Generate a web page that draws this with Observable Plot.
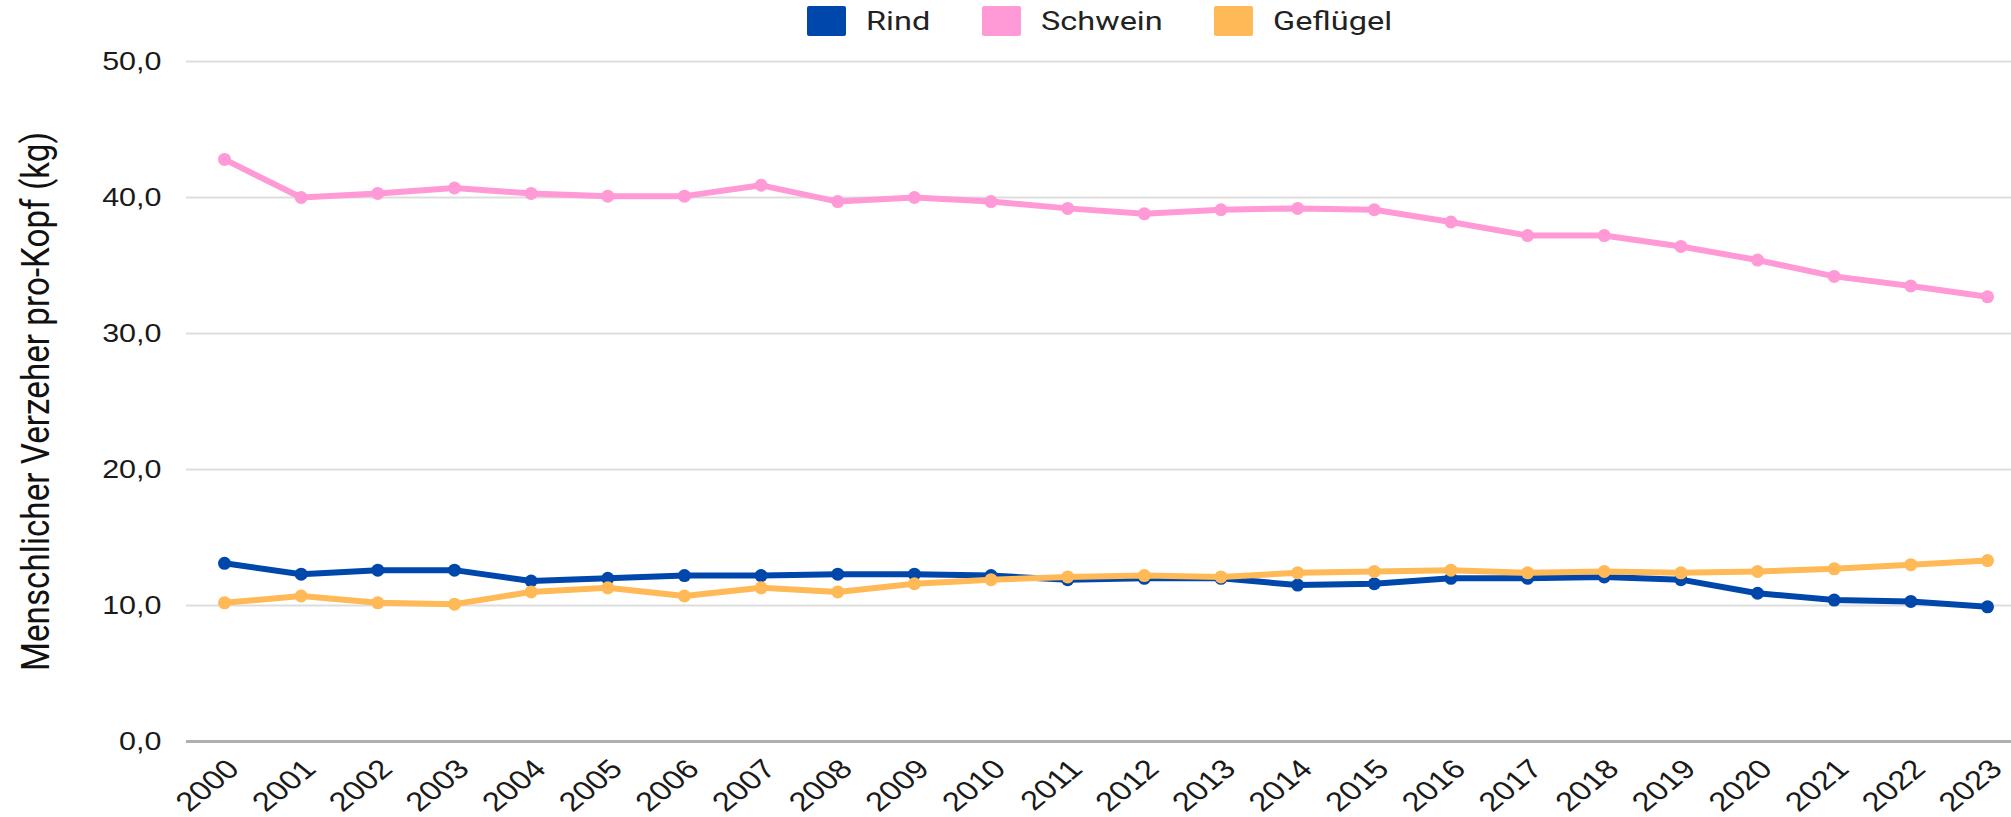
<!DOCTYPE html>
<html>
<head>
<meta charset="utf-8">
<script src="https://cdn.jsdelivr.net/npm/d3@7"></script>
<script src="https://cdn.jsdelivr.net/npm/@observablehq/plot@0.6"></script>
<style>
  html, body { margin: 0; padding: 0; background: #fff; }
  #legend { position: relative; height: 50px; width: 2011px; font-family: Roboto, sans-serif; font-size: 25px; color: #222; }
  .sw { position: absolute; top: 6px; width: 39px; height: 30px; border-radius: 2px; }
  .lt { position: absolute; top: 21px; transform: translateY(-50%) scaleX(1.3); transform-origin: 0 50%; white-space: nowrap; line-height: 1; }
</style>
</head>
<body>
<div id="legend"></div>
<div id="chart"></div>
<script>
const years = [2000,2001,2002,2003,2004,2005,2006,2007,2008,2009,2010,2011,2012,2013,2014,2015,2016,2017,2018,2019,2020,2021,2022,2023];
const rind      = [13.1,12.3,12.6,12.6,11.8,12.0,12.2,12.2,12.3,12.3,12.2,11.9,12.0,12.0,11.5,11.6,12.0,12.0,12.1,11.9,10.9,10.4,10.3,9.9];
const schwein   = [42.8,40.0,40.3,40.7,40.3,40.1,40.1,40.9,39.7,40.0,39.7,39.2,38.8,39.1,39.2,39.1,38.2,37.2,37.2,36.4,35.4,34.2,33.5,32.7];
const gefluegel = [10.2,10.7,10.2,10.1,11.0,11.3,10.7,11.3,11.0,11.6,11.9,12.1,12.2,12.1,12.4,12.5,12.6,12.4,12.5,12.4,12.5,12.7,13.0,13.3];
const seriesNames = ["Rind", "Schwein", "Geflügel"];
const seriesColors = ["#0047ab", "#ff9ad6", "#ffb957"];
const yTicks = [0, 10, 20, 30, 40, 50];
const yLabel = "Menschlicher Verzeher pro-Kopf (kg)";

const values = [rind, schwein, gefluegel];
const data = [];
seriesNames.forEach((s, i) => years.forEach((yr, j) => data.push({series: s, year: yr, value: values[i][j]})));
const drawOrder = ["Schwein", "Rind", "Geflügel"];

// legend
const legendLeft = [807, 982, 1214];
const legend = document.getElementById("legend");
seriesNames.forEach((s, i) => {
  const sw = document.createElement("div");
  sw.className = "sw";
  sw.style.left = legendLeft[i] + "px";
  sw.style.background = seriesColors[i];
  const tx = document.createElement("div");
  tx.className = "lt";
  tx.style.left = (legendLeft[i] + 59) + "px";
  tx.textContent = s;
  legend.appendChild(sw); legend.appendChild(tx);
});

const color = {domain: seriesNames, range: seriesColors};
const fmt = d => d.toFixed(1).replace(".", ",");

const marks = [
  Plot.ruleY(yTicks.filter(d => d > 0), {stroke: "#dddddd", strokeWidth: 2}),
  Plot.ruleY([0], {stroke: "#b0b0b0", strokeWidth: 3}),
];
drawOrder.forEach(s => {
  const d = data.filter(r => r.series === s);
  marks.push(Plot.line(d, {x: "year", y: "value", stroke: "series", strokeWidth: 6, strokeLinejoin: "round", strokeLinecap: "round"}));
  marks.push(Plot.dot(d, {x: "year", y: "value", fill: "series", r: 6.5}));
});
marks.push(
  Plot.axisY({ticks: yTicks, tickFormat: fmt, tickSize: 0, tickPadding: 25, fontSize: 25, label: null, fontFamily: "Liberation Sans, Arial, sans-serif", fill: "#1a1a1a"}),
  Plot.axisX({ticks: years, tickFormat: d => String(d), tickRotate: -45, tickSize: 0, tickPadding: 0, dx: 9, dy: 23, fontSize: 27, label: null, fontFamily: "Liberation Sans, Arial, sans-serif", fill: "#1a1a1a"}),
  Plot.text([yLabel], {frameAnchor: "left", dx: -149.5, rotate: -90, textAnchor: "middle", fontSize: 38, fontFamily: "Roboto, sans-serif", fill: "#111", text: d => d})
);

const chart = Plot.plot({
  width: 2011,
  height: 767,
  marginTop: 11,
  marginBottom: 76,
  marginLeft: 186,
  marginRight: 0,
  x: {type: "linear", domain: [1999.504, 2023.313]},
  y: {domain: [0, 50]},
  color,
  style: {background: "#fff", overflow: "visible"},
  marks
});

// horizontal stretch of tick labels (as in the reference)
chart.querySelectorAll('g[aria-label="y-axis tick label"] text, g[aria-label="x-axis tick label"] text').forEach(t => {
  const tr = t.getAttribute("transform");
  if (tr) {
    const m = tr.match(/^\s*(translate\([^)]*\))(.*)$/);
    if (m) t.setAttribute("transform", m[1] + " scale(1.22,1)" + m[2]);
  } else {
    const x = t.getAttribute("x") || 0, y = t.getAttribute("y") || 0;
    t.setAttribute("x", 0); t.setAttribute("y", 0);
    t.setAttribute("transform", `translate(${x},${y}) scale(1.22,1)`);
  }
});
// y label: condensed to the reference length
chart.querySelectorAll('g[aria-label="text"] text').forEach(t => {
  t.setAttribute("textLength", 539);
  t.setAttribute("lengthAdjust", "spacingAndGlyphs");
});

document.getElementById("chart").appendChild(chart);
</script>
</body>
</html>
